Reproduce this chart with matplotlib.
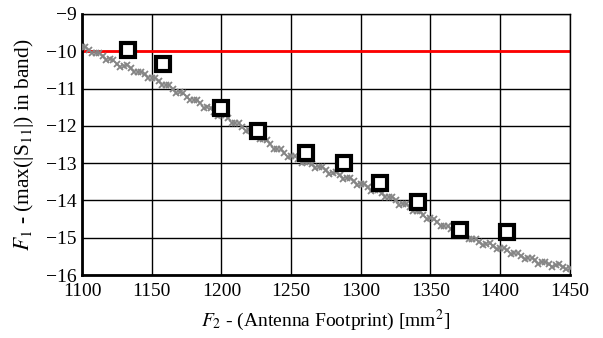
import matplotlib
matplotlib.use('Agg')
import matplotlib.pyplot as plt

plt.rcParams['font.family'] = ['Liberation Serif', 'DejaVu Serif']
plt.rcParams['mathtext.fontset'] = 'stix'

# Pareto front samples (gray crosses)
front_x = [1100, 1105, 1110, 1115, 1120, 1125, 1130, 1135, 1140, 1145, 1150, 1155, 1160, 1165,
           1170, 1175, 1180, 1185, 1190, 1195, 1200, 1205, 1210, 1215, 1220, 1225, 1230, 1235,
           1240, 1245, 1250, 1255, 1260, 1265, 1270, 1275, 1280, 1285, 1290, 1295, 1300, 1305,
           1310, 1315, 1320, 1325, 1330, 1335, 1340, 1345, 1350, 1355, 1360, 1365, 1370, 1375,
           1380, 1385, 1390, 1395, 1400, 1405, 1410, 1415, 1420, 1425, 1430, 1435, 1440, 1445, 1450]
front_y = [-9.90, -9.98, -10.05, -10.14, -10.22, -10.33, -10.40, -10.45, -10.55, -10.62, -10.72,
           -10.80, -10.90, -11.00, -11.10, -11.22, -11.30, -11.40, -11.50, -11.62, -11.72, -11.80,
           -11.92, -12.02, -12.12, -12.22, -12.36, -12.48, -12.62, -12.72, -12.82, -12.90, -12.96,
           -13.03, -13.10, -13.18, -13.26, -13.32, -13.40, -13.48, -13.56, -13.64, -13.72, -13.80,
           -13.90, -14.00, -14.10, -14.18, -14.28, -14.38, -14.48, -14.58, -14.68, -14.76, -14.82,
           -14.92, -15.02, -15.10, -15.16, -15.22, -15.28, -15.34, -15.42, -15.48, -15.54, -15.60,
           -15.66, -15.70, -15.74, -15.77, -15.80]
front2_x = [1102.5, 1107.5, 1112.5, 1117.5, 1122.5, 1127.5, 1132.5, 1137.5, 1142.5, 1147.5,
            1152.5, 1157.5, 1162.5, 1167.5, 1172.5, 1177.5, 1182.5, 1187.5, 1192.5, 1197.5,
            1202.5, 1207.5, 1212.5, 1217.5, 1222.5, 1227.5, 1232.5, 1237.5, 1242.5, 1247.5,
            1252.5, 1257.5, 1262.5, 1267.5, 1272.5, 1277.5, 1282.5, 1287.5, 1292.5, 1297.5,
            1302.5, 1307.5, 1312.5, 1317.5, 1322.5, 1327.5, 1332.5, 1337.5, 1342.5, 1347.5,
            1352.5, 1357.5, 1362.5, 1367.5, 1372.5, 1377.5, 1382.5, 1387.5, 1392.5, 1397.5,
            1402.5, 1407.5, 1412.5, 1417.5, 1422.5, 1427.5, 1432.5, 1437.5, 1442.5, 1447.5]
front2_y = [-9.88, -10.06, -10.05, -10.23, -10.24, -10.42, -10.38, -10.56, -10.55, -10.73,
            -10.72, -10.91, -10.91, -11.11, -11.12, -11.32, -11.31, -11.51, -11.52, -11.73,
            -11.72, -11.92, -11.93, -12.13, -12.13, -12.35, -12.38, -12.61, -12.63, -12.83,
            -12.82, -12.99, -12.96, -13.12, -13.10, -13.28, -13.25, -13.42, -13.40, -13.58,
            -13.56, -13.74, -13.72, -13.91, -13.91, -14.11, -14.10, -14.29, -14.29, -14.49,
            -14.49, -14.69, -14.68, -14.85, -14.83, -15.03, -15.02, -15.19, -15.15, -15.31,
            -15.27, -15.44, -15.41, -15.57, -15.53, -15.69, -15.64, -15.78, -15.71, -15.83]

# selected designs (black squares)
sel_x = [1133, 1158, 1200, 1226, 1261, 1288, 1314, 1341, 1371, 1405]
sel_y = [-9.98, -10.34, -11.52, -12.13, -12.72, -13.00, -13.53, -14.04, -14.78, -14.84]

threshold = -10

fig = plt.figure(figsize=(6.03, 3.38), dpi=100)
ax = fig.add_axes([0.136, 0.186, 0.809, 0.773])

ax.grid(True, color='black', linewidth=1.0)
ax.set_axisbelow(True)
ax.axhline(threshold, color='#ff0000', linewidth=2, zorder=2)
ax.plot(front_x, front_y, 'x', color='#858585', markersize=5, mew=1.3, zorder=3)
ax.plot(front2_x, front2_y, 'x', color='#858585', markersize=5, mew=1.3, zorder=3)
ax.plot(sel_x, sel_y, 's', mfc='white', mec='black', markersize=10, mew=3, zorder=4)

ax.set_xlim(1100, 1450)
ax.set_ylim(-16, -9)
ax.set_xticks(range(1100, 1451, 50))
ax.set_yticks(range(-16, -8))
ax.tick_params(axis='x', direction='in', length=0, labelsize=14, pad=6)
ax.tick_params(axis='y', direction='in', length=0, labelsize=14, pad=4)

for s in ['left', 'bottom']:
    ax.spines[s].set_linewidth(2)
for s in ['top', 'right']:
    ax.spines[s].set_linewidth(1)

ax.set_xlabel(r'$F_2$ - (Antenna Footprint) [mm$^2$]', fontsize=14, labelpad=5)
ax.set_ylabel(r'$F_1$ - (max(|S$_{11}$|) in band)', fontsize=15.5, labelpad=7)

fig.savefig('out.png', dpi=100)
